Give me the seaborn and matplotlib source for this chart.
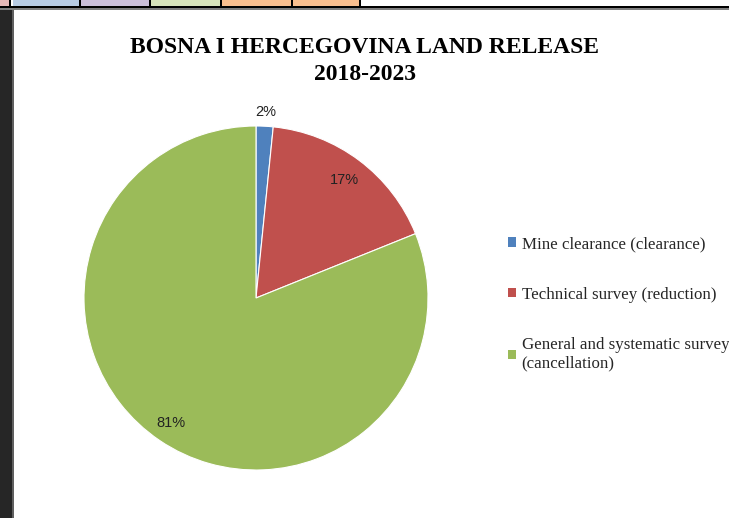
import numpy as np
import matplotlib
matplotlib.use("Agg")
import matplotlib.pyplot as plt
from matplotlib.patches import Rectangle, Patch
import seaborn as sns

categories = ["Mine clearance (clearance)",
              "Technical survey (reduction)",
              "General and systematic survey\n(cancellation)"]
values = [1.6, 17.3, 81.1]
colors = ["#4F81BD", "#C0504D", "#9BBB59"]
title = "BOSNA I HERCEGOVINA LAND RELEASE\n2018-2023"

sns.set_theme(style="white")
plt.rcParams['font.family'] = ['DejaVu Sans']

W, H = 729, 518
fig = plt.figure(figsize=(W / 100, H / 100), dpi=100)
fig.patch.set_facecolor("white")

def px(x0, y0, w, h, color, z=0):
    fig.patches.append(Rectangle((x0 / W, 1 - (y0 + h) / H), w / W, h / H,
                                 transform=fig.transFigure, facecolor=color,
                                 edgecolor="none", zorder=z))

# spreadsheet decoration
px(0, 0, 729, 7, "white")
for x0, x1, c in [(0, 9, "#E6B9B8"), (13, 79, "#B8CCE4"), (80, 149, "#CCC0DA"),
                  (151, 220, "#D8E4BC"), (222, 291, "#FABF8F"), (293, 359, "#FABF8F")]:
    px(x0, 0, x1 - x0, 6, c)
for x in [9, 79, 149, 220, 291, 359]:
    px(x, 0, 2, 7, "black")
px(0, 6, 729, 1.5, "black")
px(0, 7.5, 729, 2, "#808080")
px(0, 9.5, 12, 518, "#262626")
px(12, 9.5, 1.5, 518, "#606060")

cx, cy, r = 256, 298, 172
ax = fig.add_axes([(cx - r) / W, (H - cy - r) / H, 2 * r / W, 2 * r / H])
wedges, _ = ax.pie(values, colors=colors, startangle=90, counterclock=False,
                   wedgeprops=dict(edgecolor="white", linewidth=0.8))
ax.set_xlim(-1, 1)
ax.set_ylim(-1, 1)
ax.set_aspect("equal")

total = sum(values)
dists = [1.08, 0.86, 0.88]
cum = 0
for v, d in zip(values, dists):
    mid = (cum + v / 2) / total * 360
    cum += v
    ang = np.deg2rad(90 - mid)
    ax.text(d * np.cos(ang), d * np.sin(ang), f"{v / total * 100:.0f}%",
            ha="center", va="center", fontsize=10.5, color="#222222",
            family="Liberation Sans", clip_on=False)

fig.text(365 / W, 1 - 61 / H, title, ha="center", va="center",
         family="Liberation Serif", fontweight="bold", fontsize=17,
         linespacing=1.4, color="black")

handles = [Patch(facecolor=c, edgecolor="none") for c in colors]
leg = fig.legend(handles, categories, loc="upper left",
                 bbox_to_anchor=(508 / W, 1 - 236 / H),
                 frameon=False, prop=dict(family="Liberation Serif", size=12.2),
                 handlelength=0.45, handleheight=0.45, handletextpad=0.35,
                 labelspacing=2.05, borderaxespad=0, borderpad=0)

fig.savefig("out.png", dpi=100)
